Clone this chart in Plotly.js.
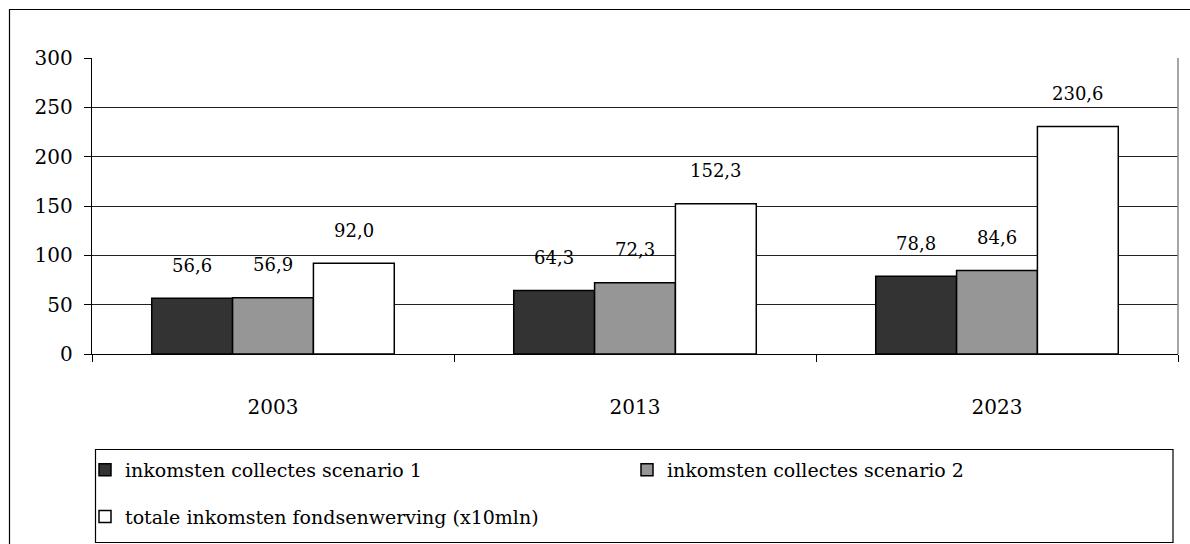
<!DOCTYPE html>
<html>
<head>
<meta charset="utf-8">
<script src="https://cdn.plot.ly/plotly-3.0.1.min.js"></script>
<style>html,body{margin:0;padding:0;background:#fff;}#chart{width:1190px;height:544px;}</style>
</head>
<body>
<div id="chart"></div>
<script>
const categories = ['2003', '2013', '2023'];
const scenario1 = [56.6, 64.3, 78.8];
const scenario2 = [56.9, 72.3, 84.6];
const totaal = [92.0, 152.3, 230.6];
const seriesNames = [
  'inkomsten collectes scenario 1',
  'inkomsten collectes scenario 2',
  'totale inkomsten fondsenwerving (x10mln)'
];
const yTicks = [0, 50, 100, 150, 200, 250, 300];

const FONT = '"DejaVu Serif", "Liberation Serif", serif';
const colors = ['#333333', '#969696', '#ffffff'];
const seriesData = [scenario1, scenario2, totaal];
const legends = ['legend', 'legend2', 'legend'];
const groups = ['g1', 'g2', 'g3'];

const traces = seriesData.map((vals, i) => ({
  type: 'bar',
  name: seriesNames[i],
  x: categories,
  y: vals,
  legend: legends[i],
  legendgroup: groups[i],
  marker: {color: colors[i], line: {color: '#000', width: 1.5}},
  hoverinfo: 'skip'
}));

// plot area in pixels
const L = 92, R = 12, T = 58, B = 190, W = 1190, H = 544;
const pw = W - L - R, ph = H - T - B;
const px = v => (v - L) / pw;
const py = v => (H - B - v) / ph;

const bargap = 0.33;
const barW = (1 - bargap) / 3;
const annotations = [];
seriesData.forEach((vals, i) => {
  vals.forEach((v, j) => {
    annotations.push({
      x: j + (i - 1) * barW, y: v, xref: 'x', yref: 'y',
      text: v.toFixed(1).replace('.', ','),
      showarrow: false, yanchor: 'middle', yshift: 33,
      font: {family: FONT, size: 18, color: '#000'}
    });
  });
});

const shapes = [
  // outer chart border
  {type: 'rect', xref: 'paper', yref: 'paper', x0: px(9.5), x1: px(1200), y0: py(560), y1: py(9.5),
   line: {color: '#000', width: 1.2}, fillcolor: 'rgba(0,0,0,0)', layer: 'below'},
  // legend box
  {type: 'rect', xref: 'paper', yref: 'paper', x0: px(95.5), x1: px(1173), y0: py(542.5), y1: py(449.5),
   line: {color: '#000', width: 1.2}, fillcolor: 'rgba(0,0,0,0)'},
  // right border of plot area
  {type: 'line', xref: 'paper', yref: 'paper', x0: 1, x1: 1, y0: 0, y1: 1,
   line: {color: '#888', width: 1.5}}
];

const layout = {
  width: W, height: H,
  margin: {l: L, r: R, t: T, b: B, pad: 0, autoexpand: false},
  paper_bgcolor: '#fff', plot_bgcolor: '#fff',
  font: {family: FONT, color: '#000'},
  barmode: 'group', bargap: bargap, bargroupgap: 0,
  showlegend: true,
  xaxis: {
    type: 'category', tickson: 'boundaries', ticks: 'outside', ticklen: 7, tickcolor: '#000', tickwidth: 1,
    showline: true, linecolor: '#000', linewidth: 1.2, mirror: false,
    showgrid: false, tickfont: {family: FONT, size: 20, color: '#000'},
    ticklabelstandoff: 35, fixedrange: true, automargin: false
  },
  yaxis: {
    range: [0, 300], tickvals: yTicks, ticktext: yTicks.map(String),
    ticks: 'outside', ticklen: 7, tickcolor: '#000', tickwidth: 1,
    showline: true, linecolor: '#000', linewidth: 1.2,
    showgrid: true, gridcolor: '#222', gridwidth: 1, zeroline: false,
    tickfont: {family: FONT, size: 20, color: '#000'}, ticklabelstandoff: 7, fixedrange: true, automargin: false
  },
  legend: {
    orientation: 'v', x: px(85), y: py(451), xanchor: 'left', yanchor: 'top',
    bgcolor: 'rgba(0,0,0,0)', borderwidth: 0, tracegroupgap: 19,
    font: {family: FONT, size: 19, color: '#000'}, traceorder: 'grouped'
  },
  legend2: {
    orientation: 'v', x: px(627), y: py(451), xanchor: 'left', yanchor: 'top',
    bgcolor: 'rgba(0,0,0,0)', borderwidth: 0,
    font: {family: FONT, size: 19, color: '#000'}
  },
  shapes: shapes,
  annotations: annotations
};

Plotly.newPlot('chart', traces, layout, {displayModeBar: false, staticPlot: true});
</script>
</body>
</html>
